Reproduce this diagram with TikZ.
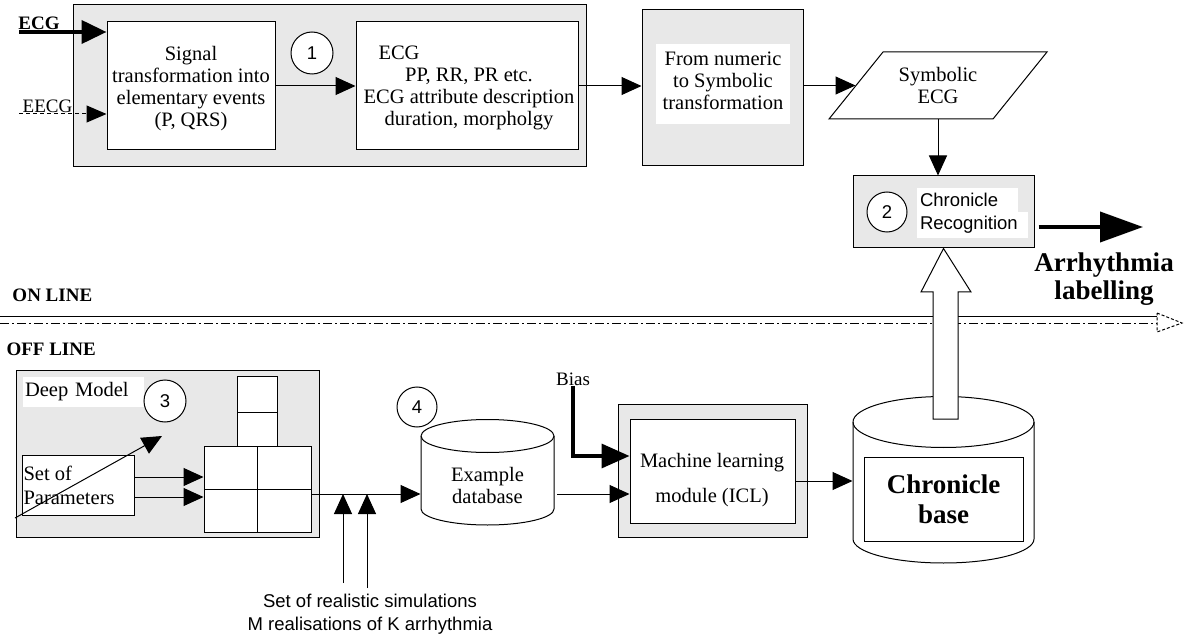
\documentclass[tikz,border=0pt]{standalone}
\usepackage{fontspec}
\setmainfont{Liberation Serif}
\setsansfont{Liberation Sans}
\usepackage{tikz}
\usetikzlibrary{arrows.meta}
\definecolor{panelgray}{RGB}{232,232,232}
\newcommand{\bodyfont}{\fontsize{20.5}{22}\selectfont}
\newcommand{\smallsans}{\sffamily\fontsize{18.5}{23}\selectfont}

\begin{document}
\begin{tikzpicture}[x=1pt,y=-1pt,line width=1pt,
	>={Triangle[length=20pt,width=18pt]},
	panel/.style={draw,fill=panelgray,inner sep=0pt},
	whitebox/.style={draw,fill=white,inner sep=0pt},
	tag/.style={fill=white,inner sep=0pt},
	txt/.style={font=\bodyfont,align=center,inner sep=0pt},
	numcircle/.style={circle,draw,fill=white,minimum size=42pt,inner sep=0pt,font=\smallsans},
	cell/.style={draw,fill=white,inner sep=0pt}]
				\useasboundingbox (0,0) rectangle (1184,639);
				
				% on line: preprocessing
				\node[panel,minimum width=513pt,minimum height=162pt] (pre) at (329.5,86) {};
				\node[whitebox,minimum width=168pt,minimum height=128pt] (sig) at (191,86) {};
				\node[txt] (sigtext) at (191,88.5) {Signal\\transformation into\\elementary events\\(P, QRS)};
				\node[whitebox,minimum width=222pt,minimum height=128pt] (attr) at (467,86) {};
				\node[txt] (attrhead) at (399,53) {ECG};
				\node[txt] (attrtext) at (469,99) {PP, RR, PR etc.\\ECG attribute description\\duration, morpholgy};
				\node[numcircle] (c1) at (312,53) {1};
				
				\node[txt,font=\bfseries\fontsize{19}{20}\selectfont] (ecg) at (39,23) {ECG};
				\node[txt,font=\fontsize{19}{20}\selectfont] (eecg) at (47.5,106) {EECG};
				\coordinate (ecgin) at (19,32);
				\coordinate (eecgin) at (19,114);
				\draw[line width=4pt,-{Triangle[length=25pt,width=23pt]}] (ecgin) -- (ecgin -| sig.west);
				\draw[dash pattern=on 4pt off 3pt,-{Triangle[length=20pt,width=17pt]}] (eecgin) -- (eecgin -| sig.west);
				\draw[->] (sig.east) -- (attr.west);
				
				% numeric to symbolic
				\node[panel,minimum width=161pt,minimum height=156pt] (num) at (722.5,88) {};
				\node[tag,minimum width=134pt,minimum height=80pt] (numbg) at (723,84) {};
				\node[txt] (numtext) at (723,81) {From numeric\\to Symbolic\\transformation};
				\draw[fill=white] (883,52) -- (1047,52) -- (993,119) -- (829,119) -- cycle;
				\node[txt,minimum width=164pt,minimum height=67pt] (sym) at (938,85.5) {Symbolic\\ECG};
				\draw[->] (attr.east) -- (attr.east -| num.west);
				\draw[->] (num.east |- sym.west) -- (sym.west);
				
				% chronicle recognition
				\node[panel,minimum width=181pt,minimum height=72pt] (rec) at (943.5,212) {};
				\node[numcircle,minimum size=40pt] (c2) at (887,212) {2};
				\node[tag,text width=95pt,inner xsep=3pt,minimum height=24pt,align=left,font=\smallsans] (rec1) at (967.5,200) {Chronicle};
				\node[tag,text width=105pt,inner xsep=3pt,minimum height=26pt,align=left,font=\smallsans] (rec2) at (972.5,225) {Recognition};
				\draw[->] (sym.south) -- (sym.south |- rec.north);
				
				\node[txt,font=\bfseries\fontsize{27}{28}\selectfont] (arrlab) at (1104,279) {Arrhythmia\\labelling};
				\coordinate (labtip) at (1143,227);
				\draw[line width=4pt,-{Triangle[length=43pt,width=30pt]}] ([xshift=4pt,yshift=-15pt]rec.east) -- (labtip);
				
				% on line / off line border
				\node[txt,font=\bfseries\fontsize{19}{20}\selectfont,anchor=west] (online) at (12,295) {ON LINE};
				\node[txt,font=\bfseries\fontsize{19}{20}\selectfont,anchor=west] (offline) at (6,349) {OFF LINE};
				\draw (0,316) -- (1157,316);
				\draw[dash pattern=on 9pt off 3pt on 2pt off 3pt] (0,323) -- (1157,323);
				\draw[densely dashed] (1157,313) -- (1182,323) -- (1157,332) -- cycle;
				
				% off line: deep model
				\node[panel,minimum width=303pt,minimum height=167pt] (deep) at (167.5,453.5) {};
				\node[tag,text width=117pt,inner xsep=2pt,minimum height=30pt,align=left,font=\bodyfont] (deeplab) at (83.5,392) {Deep Model};
				\node[numcircle] (c3) at (165,401) {3};
				\node[whitebox,minimum width=112pt,minimum height=60pt] (par) at (78,485) {};
				\node[txt,align=left,anchor=west,font=\fontsize{20.5}{24}\selectfont] (partext) at (23,485) {Set of\\Parameters};
				\coordinate (pin) at (15,518);
				\coordinate (pout) at (162,436);
				\draw[->] (pin) -- (pout);
				
				\foreach \n/\x/\y in
				{ga/230.75/467.5, gb/284.25/467.5, gc/230.75/510.5, gd/284.25/510.5}{
					\node[cell,minimum width=53.5pt,minimum height=43pt] (\n) at (\x,\y) {};
				}
				\foreach \n/\y/\h in
				{sa/394/36, sb/429/34}{
					\node[cell,minimum width=40pt,minimum height=\h pt] (\n) at (257,\y) {};
				}
				\draw[->] ([yshift=8pt]par.east) coordinate (p1) -- (p1 -| ga.west);
				\draw[->] ([yshift=-12pt]par.east) coordinate (p2) -- (p2 -| gc.west);
				
				% example database
				\draw[fill=white] (421,436) -- (421,509) arc[start angle=180,end angle=0,x radius=66.5,y radius=16]
					-- (554,436) arc[start angle=0,end angle=-180,x radius=66.5,y radius=16.5] -- cycle;
				\draw (421,436) arc[start angle=180,end angle=0,x radius=66.5,y radius=16.5];
				\node[txt,minimum width=133pt] (exdb) at (487.5,485.5) {Example\\database};
				\node[numcircle,minimum size=40pt] (c4) at (417,407) {4};
				
				\coordinate (feed) at (311,494);
				\draw[->] (feed) -- (feed -| exdb.west);
				\foreach \s/\x/\y in
				{sim1/343/583, sim2/367/588}{
					\coordinate (\s) at (\x,\y);
					\draw[->] (\s) -- (\s |- feed);
				}
				\node[txt,font=\smallsans] (simtext) at (370,614.5) {Set of realistic simulations\\M realisations of K arrhythmia};
				
				% machine learning
				\node[panel,minimum width=189pt,minimum height=133pt] (mlout) at (712.5,470.5) {};
				\node[whitebox,minimum width=165pt,minimum height=104pt] (ml) at (712.5,471) {};
				\node[txt,font=\fontsize{20.5}{35}\selectfont] (mltext) at (712,480.5) {Machine learning\\module (ICL)};
				\node[txt,font=\fontsize{19}{20}\selectfont] (bias) at (573,379) {Bias};
				\draw[line width=3.5pt,-{Triangle[length=28pt,width=24pt]}] (bias.south) |- ([yshift=15pt]ml.west);
				\coordinate (dbout) at (557,494);
				\draw[->] (dbout) -- (dbout -| ml.west);
				
				% chronicle base
				\draw[fill=white] (853,422) -- (853,539) arc[start angle=180,end angle=0,x radius=90.5,y radius=24]
					-- (1034,422) arc[start angle=0,end angle=-180,x radius=90.5,y radius=25.5] -- cycle;
				\draw (853,422) arc[start angle=180,end angle=0,x radius=90.5,y radius=25.5];
				\node[minimum width=181pt,minimum height=117pt,inner sep=0pt] (cbase) at (943.5,480.5) {};
				\node[whitebox,minimum width=159pt,minimum height=84pt,align=center,font=\bfseries\fontsize{27}{30}\selectfont] (cbtext) at (943.5,499) {Chronicle\\base};
				\draw[->] ([yshift=-10pt]ml.east) coordinate (mo) -- (mo -| cbase.west);
				
				% learned chronicles go on line
				\draw[fill=white] (933,419) -- (933,292) -- (921,292) -- (rec.south) -- (971,292) -- (958,292) -- (958,419) -- cycle;
			\end{tikzpicture}
\end{document}
